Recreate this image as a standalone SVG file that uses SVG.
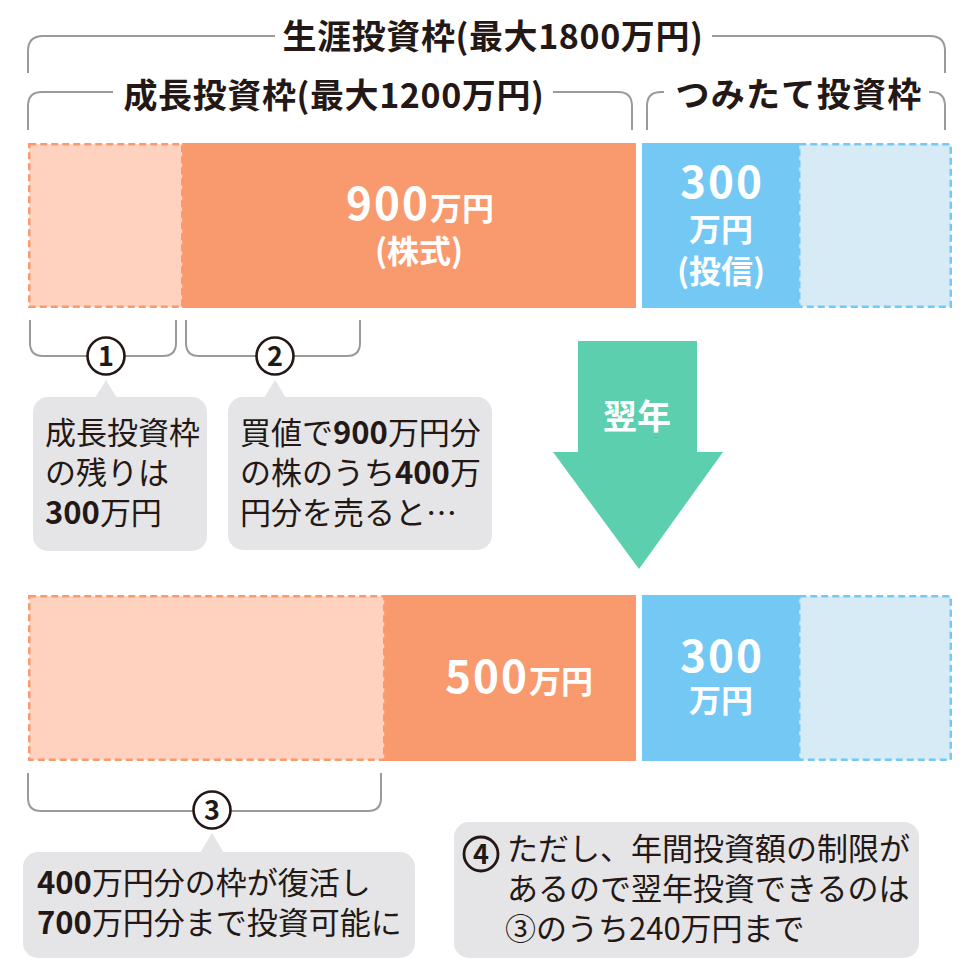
<svg xmlns="http://www.w3.org/2000/svg" width="980" height="980" viewBox="0 0 980 980">
<style>
text{font-family:"Noto Sans CJK JP","Noto Sans",sans-serif;fill:#231815}
.h{font-size:34px;font-weight:700}
.w{fill:#fff;font-weight:700}
.big{font-size:44px;letter-spacing:2px}
.c{font-size:31px;font-weight:400}
.b{font-weight:700}
.br{fill:none;stroke:#9a9a9a;stroke-width:2}
.circ{fill:#fff;stroke:#231815;stroke-width:2.6}
.num{font-size:27px;font-weight:700;text-anchor:middle}
.box{fill:#e5e5e7}
.lo{fill:#fed2be;stroke:#f99a6e;stroke-width:2.5;stroke-dasharray:7 4}
.o{fill:#f99a6e}
.bl{fill:#73c9f4}
.lb{fill:#d6ebf6;stroke:#73c9f4;stroke-width:2.5;stroke-dasharray:7 4}
</style>
<rect width="980" height="980" fill="#fff"/>

<g id="brackets-top">
<path class="br" d="M28,73 V51 Q28,36 43,36 H275 M712,36 H930 Q945,36 945,51 V73"/>
<text class="h" x="493" y="49" text-anchor="middle" letter-spacing="0.6">生涯投資枠(最大1800万円)</text>
<path class="br" d="M28,130 V106 Q28,92 42,92 H113 M553,92 H618 Q632,92 632,106 V130"/>
<text class="h" x="334" y="108" text-anchor="middle" letter-spacing="0.6">成長投資枠(最大1200万円)</text>
<path class="br" d="M647,130 V106 Q647,92 661,92 H664 M929,92 H931 Q945,92 945,106 V130"/>
<text class="h" x="799" y="107" text-anchor="middle" letter-spacing="1.3">つみたて投資枠</text>
</g>

<g id="bar-top">
<rect class="o" x="182" y="143" width="454" height="165"/>
<rect class="lo" x="29.25" y="144.25" width="153" height="162.5"/>
<rect class="bl" x="642" y="143" width="158" height="165"/>
<rect class="lb" x="799.25" y="144.25" width="151.5" height="162.5"/>
<text class="w" x="420" y="220" text-anchor="middle"><tspan class="big">900</tspan><tspan font-size="32">万円</tspan></text>
<text class="w" x="419" y="263" text-anchor="middle" font-size="32">(株式)</text>
<text class="w big" x="722" y="198" text-anchor="middle">300</text>
<text class="w" x="721" y="241" text-anchor="middle" font-size="32">万円</text>
<text class="w" x="721" y="283" text-anchor="middle" font-size="32">(投信)</text>
</g>

<g id="connectors">
<path class="br" d="M30,320 V343 Q30,356 43,356 H163 Q176,356 176,343 V320"/>
<path class="br" d="M186,320 V343 Q186,356 199,356 H347 Q360,356 360,343 V320"/>
<path class="br" d="M28,773 V798 Q28,811 41,811 H368 Q381,811 381,798 V773"/>
</g>

<g id="n1">
<circle class="circ" cx="106" cy="356" r="18.5"/>
<text class="num" x="106" y="366">1</text>
</g>
<g id="n2">
<circle class="circ" cx="275" cy="356" r="18.5"/>
<text class="num" x="275" y="366">2</text>
</g>

<g id="callout1">
<rect class="box" x="33" y="397" width="174" height="154" rx="15"/>
<polygon class="box" points="95,398 106,380 117,398"/>
<text class="c" x="45" y="444">成長投資枠</text>
<text class="c" x="45" y="484">の残りは</text>
<text class="c" x="45" y="524"><tspan class="b">300</tspan>万円</text>
</g>

<g id="callout2">
<rect class="box" x="228" y="397" width="264" height="153" rx="15"/>
<polygon class="box" points="264,398 275,380 286,398"/>
<text class="c" x="240" y="444">買値で<tspan class="b">900</tspan>万円分</text>
<text class="c" x="240" y="484">の株のうち<tspan class="b">400</tspan>万</text>
<text class="c" x="240" y="524">円分を売ると…</text>
</g>

<g id="arrow">
<polygon fill="#5ccfae" points="578,341 697,341 697,452 723,452 639,569 553,452 578,452"/>
<text class="w" x="637" y="429" text-anchor="middle" font-size="34">翌年</text>
</g>

<g id="bar-bottom">
<rect class="o" x="384" y="595" width="252" height="166"/>
<rect class="lo" x="29.25" y="596.25" width="355" height="163.5"/>
<rect class="bl" x="642" y="595" width="158" height="166"/>
<rect class="lb" x="799.25" y="596.25" width="151.5" height="163.5"/>
<text class="w" x="519" y="693" text-anchor="middle"><tspan class="big">500</tspan><tspan font-size="32">万円</tspan></text>
<text class="w big" x="722" y="672" text-anchor="middle">300</text>
<text class="w" x="721" y="712" text-anchor="middle" font-size="32">万円</text>
</g>

<g id="n3">
<circle class="circ" cx="212" cy="810" r="18.5"/>
<text class="num" x="212" y="820">3</text>
</g>

<g id="callout3">
<rect class="box" x="23" y="852" width="392" height="106" rx="15"/>
<polygon class="box" points="200,853 212,833 224,853"/>
<text class="c" x="37" y="894"><tspan class="b">400</tspan>万円分の枠が復活し</text>
<text class="c" x="37" y="934"><tspan class="b">700</tspan>万円分まで投資可能に</text>
</g>

<g id="callout4">
<rect class="box" x="454" y="822" width="465" height="136" rx="15"/>
<circle cx="481" cy="854" r="17" fill="none" stroke="#231815" stroke-width="2.8"/>
<text class="num" x="481" y="864">4</text>
<text class="c" x="507" y="860">ただし、年間投資額の制限が</text>
<text class="c" x="507" y="900">あるので翌年投資できるのは</text>
<text class="c" x="505" y="940">③のうち240万円まで</text>
</g>
</svg>
